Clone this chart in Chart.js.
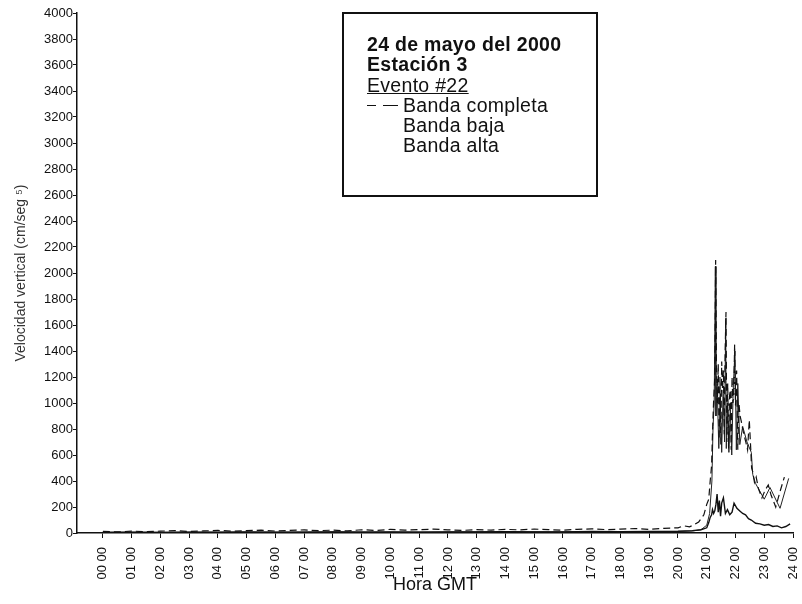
<!DOCTYPE html>
<html>
<head>
<meta charset="utf-8">
<script src="https://cdn.jsdelivr.net/npm/chart.js@4.4.0/dist/chart.umd.min.js"></script>
<style>
  html, body { margin: 0; padding: 0; background: #fff; }
  #wrap { position: relative; width: 802px; height: 604px; }
  #grafico { position: absolute; left: 0; top: 0; }
  #leyenda {
    position: absolute; left: 342px; top: 12px; width: 256px; height: 185px;
    border: 2px solid #111; box-sizing: border-box;
    font-family: "Liberation Sans", Arial, sans-serif; font-size: 19.5px; letter-spacing: 0.3px; color: #111;
    padding: 20px 0 0 23px; line-height: 20.3px;
  }
  #leyenda .neg { font-weight: bold; }
  #leyenda .sub { text-decoration: underline; }
  #leyenda .item { padding-left: 36px; position: relative; }
  #leyenda .guion {
    position: absolute; top: 10px; height: 0; border-top: 1.2px solid #111;
  }
</style>
</head>
<body>
<div id="wrap">
  <canvas id="grafico" width="802" height="604"></canvas>
  <div id="leyenda">
    <div class="neg">24 de mayo del 2000</div>
    <div class="neg">Estación 3</div>
    <div class="sub">Evento #22</div>
    <div class="item"><span class="guion" style="left:0;width:9px"></span><span class="guion" style="left:16px;width:15px"></span>Banda completa</div>
    <div class="item">Banda baja</div>
    <div class="item">Banda alta</div>
  </div>
</div>
<script>
// etiquetas del eje horizontal
const horasEtiquetas = ['00 00','01 00','02 00','03 00','04 00','05 00','06 00','07 00','08 00','09 00',
  '10 00','11 00','12 00','13 00','14 00','15 00','16 00','17 00','18 00','19 00',
  '20 00','21 00','22 00','23 00','24 00'];

// Banda completa (linea discontinua)
const completaHoras = [0,0.5,1,1.5,2,2.5,3,3.5,4,4.5,5,5.5,6,6.5,7,7.5,8,8.5,9,9.5,
  10,10.5,11,11.5,12,12.5,13,13.5,14,14.5,15,15.5,16,16.5,17,17.5,18,18.5,19,19.5,20,
  20.2,20.4,20.55,20.72,20.9,
  21.0,21.07,21.12,21.17,21.2,21.24,21.28,
  21.31,21.34,21.37,21.4,21.43,21.46,21.49,21.52,21.55,21.58,21.61,21.64,21.67,21.7,21.73,21.76,21.79,21.82,21.85,21.88,21.91,21.94,21.97,22.0,
  22.04,22.08,22.12,22.16,22.2,22.25,22.3,22.36,22.42,22.48,22.53,22.56,22.6,22.66,22.72,22.8,22.92,23.03,23.14,23.24,23.4,23.55,23.7,23.85];
const completaValores = [12,8,15,10,14,18,12,16,20,14,18,22,15,20,24,18,22,16,25,20,
  28,22,26,30,24,20,26,22,28,24,30,26,22,28,32,26,30,34,28,36,40,
  55,48,62,85,140,
  220,260,400,520,770,1020,1200,
  2100,1250,1000,1300,720,1200,680,1320,1100,1250,760,1400,1700,700,1150,650,1050,1100,640,1200,1000,1050,1450,
  980,1250,640,1000,900,860,800,750,700,640,870,650,500,470,390,430,340,270,330,370,290,200,320,430];

// Banda baja
const bajaHoras = [0,1,2,3,4,5,6,7,8,9,10,11,12,13,14,15,16,17,18,19,20,
  20.5,20.8,21.0,21.07,21.12,21.17,21.2,21.24,21.28,21.32,21.36,21.4,21.44,21.48,21.52,21.58,21.65,21.72,21.8,21.88,21.95,
  22.05,22.15,22.25,22.35,22.45,22.55,22.7,22.85,23.0,23.15,23.3,23.45,23.6,23.75,23.9];
const bajaValores = [4,6,5,7,5,8,6,7,9,6,8,7,9,8,10,8,9,11,10,12,14,
  18,25,40,80,120,140,180,150,170,220,300,160,250,130,230,270,150,180,140,160,230,
  190,170,150,140,110,100,75,70,60,65,50,55,40,50,70];

// Banda alta
const altaHoras = [0,2,4,6,8,10,12,14,16,18,20,
  20.5,20.8,21.0,21.1,21.18,21.22,21.26,21.3,21.32,21.36,21.42,21.47,21.52,21.57,21.62,21.66,21.68,21.72,21.77,21.82,21.87,21.92,21.98,
  22.03,22.08,22.15,22.25,22.4,22.55,22.6,22.7,23.0,23.2,23.55,23.85];
const altaValores = [6,5,8,6,9,7,8,10,9,11,12,
  15,25,60,150,400,820,1000,2050,900,1150,650,1050,620,1100,700,1650,650,1000,620,950,600,1100,1400,
  640,1150,680,820,700,620,450,380,260,350,190,420];

function puntos(horas, valores) {
    return horas.map((h, i) => ({x: h, y: valores[i]}));
}

const fuente = '"Liberation Sans", Arial, sans-serif';
const fuenteEstrecha = '"Liberation Sans Narrow", "Arial Narrow", "Liberation Sans", Arial, sans-serif';

const ctx = document.getElementById('grafico').getContext('2d');
new Chart(ctx, {
    type: 'line',
    data: {
        datasets: [
            {
                label: 'Banda completa',
                data: puntos(completaHoras, completaValores),
                borderColor: '#111',
                borderWidth: 1.2,
                borderDash: [7, 4],
                pointRadius: 0,
                tension: 0
            },
            {
                label: 'Banda baja',
                data: puntos(bajaHoras, bajaValores),
                borderColor: '#111',
                borderWidth: 1.4,
                pointRadius: 0,
                tension: 0
            },
            {
                label: 'Banda alta',
                data: puntos(altaHoras, altaValores),
                borderColor: '#222',
                borderWidth: 1,
                pointRadius: 0,
                tension: 0
            }
        ]
    },
    options: {
        responsive: false,
        animation: false,
        layout: {
            padding: {top: 13, right: 9, bottom: 0, left: 0}
        },
        plugins: {
            legend: {display: false},
            tooltip: {enabled: false}
        },
        scales: {
            x: {
                type: 'linear',
                min: -0.9,
                max: 24,
                afterBuildTicks: function(scale) {
                    scale.ticks = horasEtiquetas.map((_, i) => ({value: i}));
                },
                afterFit: function(scale) {
                    scale.height = 71;
                    scale.paddingLeft = 0;
                    scale.paddingRight = 0;
                },
                border: {display: true, color: '#111', width: 1.5},
                grid: {drawOnChartArea: false, drawTicks: true, tickLength: 5, color: '#111'},
                ticks: {
                    autoSkip: false,
                    minRotation: 90,
                    maxRotation: 90,
                    padding: 9,
                    color: '#111',
                    font: {family: fuente, size: 13},
                    callback: function(value) {
                        return horasEtiquetas[value] ?? '';
                    }
                },
                title: {
                    display: true,
                    text: 'Hora GMT',
                    color: '#111',
                    font: {family: fuente, size: 18},
                    padding: {top: 0, bottom: 8}
                }
            },
            y: {
                min: 0,
                max: 4000,
                afterFit: function(scale) { scale.width = 77; },
                border: {display: true, color: '#111', width: 1.5},
                grid: {drawOnChartArea: false, drawTicks: true, tickLength: 4, color: '#111'},
                ticks: {
                    stepSize: 200,
                    padding: 0,
                    color: '#111',
                    font: {family: fuenteEstrecha, size: 13},
                    callback: function(value) { return String(value); }
                },
                title: {
                    display: true,
                    text: 'Velocidad vertical (cm/seg ⁵)',
                    color: '#333',
                    font: {family: fuente, size: 14},
                    padding: {top: 13, bottom: 0}
                }
            }
        }
    }
});
</script>
</body>
</html>
